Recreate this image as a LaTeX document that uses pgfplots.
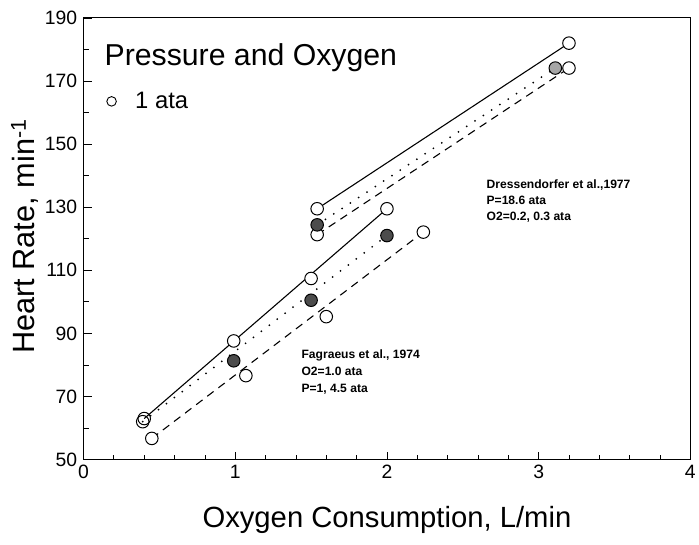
\documentclass[border=0pt]{standalone}
\usepackage{fontspec}
\setmainfont{Liberation Sans}
\usepackage{pgfplots}
\pgfplotsset{compat=1.18}
\usetikzlibrary{calc}
\begin{document}
\begin{tikzpicture}
\begin{axis}[
  scale only axis, width=610bp, height=444bp,
  xmin=0, xmax=4, ymin=50, ymax=190,
  xtick={0,1,2,3,4}, ytick={50,70,...,190},
  minor x tick num=4, minor y tick num=1,
  tick align=inside, xtick pos=bottom, ytick pos=left,
  major tick length=8bp, minor tick length=5bp,
  tick style={black, line width=0.8bp},
  axis line style={line width=1bp},
  ticklabel style={font=\fontsize{19.5}{22}\selectfont},
  xticklabel style={yshift=-2bp},
  yticklabel style={xshift=-3bp},
  /pgf/number format/assume math mode=true,
  xlabel={Oxygen Consumption, L/min},
  ylabel={Heart Rate, min\textsuperscript{-1}},
  xlabel style={font=\fontsize{29.5}{34}\selectfont, at={(axis description cs:0.5,-0.137)}, anchor=center},
  ylabel style={font=\fontsize{31}{36}\selectfont, at={(axis description cs:-0.0967,0.505)}, anchor=center},
  clip=false,
  legend style={at={(axis description cs:0.038,0.811)}, anchor=west, draw=none, fill=none,
    font=\fontsize{24}{28}\selectfont, inner sep=0pt},
  legend cell align=left,
]
\addlegendimage{only marks, mark=o, mark size=4.8bp, black, line width=0.9bp}
\addlegendentry{\hspace{17bp}1 ata}
% lower group (Fagraeus)
\addplot[black, line width=1.1bp] coordinates {(0.40,63.0) (2.00,129.5)};
\addplot[black, line width=2bp, dash pattern=on 0pt off 10bp, line cap=round] coordinates {(0.39,62.0) (2.00,121.0)};
\addplot[black, line width=1.1bp, dash pattern=on 8bp off 6bp] coordinates {(0.45,56.7) (2.24,122.1)};
% upper group (Dressendorfer)
\addplot[black, line width=1.1bp] coordinates {(1.54,129.5) (3.20,182.0)};
\addplot[black, line width=2bp, dash pattern=on 0pt off 10bp, line cap=round] coordinates {(1.54,124.4) (3.11,174.1)};
\addplot[black, line width=1.1bp, dash pattern=on 8bp off 6bp] coordinates {(1.54,121.3) (3.20,174.1)};
% open circles
\addplot[only marks, mark=o, mark size=6.3bp, black, line width=1bp] coordinates {(0.40,63.0) (0.39,62.0)};
\addplot[only marks, mark=*, mark size=6.3bp, mark options={fill=white, draw=black, line width=1bp}] coordinates {
(0.99,87.6) (1.50,107.4) (2.00,129.5) (0.45,56.7) (1.07,76.6) (1.60,95.3) (2.24,122.1)
(1.54,129.5) (1.54,121.3) (3.20,182.0) (3.20,174.1)};
% filled circles
\addplot[only marks, mark=*, mark size=6.3bp, mark options={fill=black!70, draw=black, line width=1bp}] coordinates {
(0.99,81.3) (1.50,100.5) (2.00,121.0) (1.54,124.4)};
\addplot[only marks, mark=*, mark size=6.3bp, mark options={fill=black!35, draw=black, line width=1bp}] coordinates {
(3.11,174.1)};
\node[anchor=west, inner sep=0pt, font=\fontsize{30.5}{34}\selectfont] at (axis cs:0.138,177.4) {Pressure and Oxygen};
\node[anchor=north west, inner sep=0pt, align=left, font=\bfseries\fontsize{12.2}{16}\selectfont] at (axis cs:2.656,138.8)
  {Dressendorfer et al.,1977\\P=18.6 ata\\O2=0.2, 0.3 ata};
\node[anchor=north west, inner sep=0pt, align=left, font=\bfseries\fontsize{12.2}{17}\selectfont] at (axis cs:1.436,84.9)
  {Fagraeus et al., 1974\\O2=1.0 ata\\P=1, 4.5 ata};
\end{axis}
\path ($(current axis.south west)+(-84bp,-85bp)$) rectangle ($(current axis.north east)+(5bp,18bp)$);
\end{tikzpicture}
\end{document}
